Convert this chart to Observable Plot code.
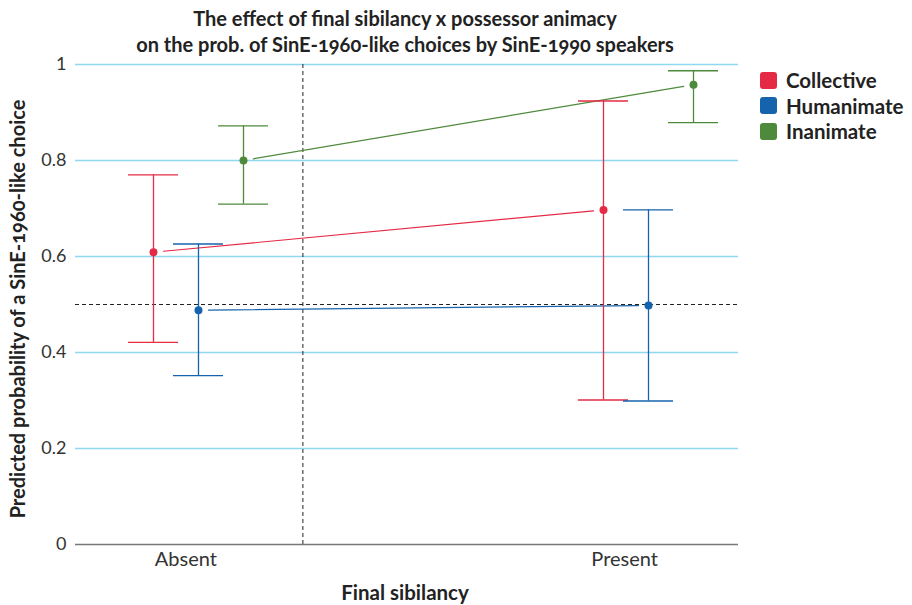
<!DOCTYPE html>
<html><head><meta charset="utf-8">
<script src="https://cdn.jsdelivr.net/npm/d3@7"></script>
<script src="https://cdn.jsdelivr.net/npm/@observablehq/plot@0.6"></script>
<style>
body{margin:0;background:#fff;font-family:Lato,"Open Sans",sans-serif;}
#wrap{position:relative;width:912px;height:605px;overflow:hidden;font-variant-numeric:oldstyle-nums;}
.t{position:absolute;white-space:nowrap;color:#222;}
.title{left:0;width:810px;text-align:center;font-weight:bold;font-size:20px;}
.leg{left:760px;font-weight:bold;font-size:20.5px;display:flex;align-items:center;}
.sw{width:17px;height:17px;border-radius:3px;margin-right:9px;display:inline-block;}
#plot svg{position:absolute;left:0;top:0;}
</style>
</head><body>
<div id="wrap">
  <div id="plot"></div>
  <div class="t title" style="top:6px">The effect of final sibilancy x possessor animacy</div>
  <div class="t title" style="top:32px">on the prob. of SinE-1960-like choices by SinE-1990 speakers</div>
  <div id="legend"></div>
  <div class="t" id="xlab" style="left:0;width:810px;text-align:center;top:580px;font-weight:bold;font-size:20.5px;">Final sibilancy</div>
  <div class="t" id="ylab" style="left:17px;top:309px;font-weight:bold;font-size:20px;transform:translate(-50%,-50%) rotate(-90deg);">Predicted probability of a SinE-1960-like choice</div>
</div>
<script>
// ---- data ----
const groups = ["Collective", "Humanimate", "Inanimate"];
const groupColors = ["#e52a45", "#1663ad", "#4e8a3b"];
const sibilancy = ["Absent", "Present"];
const sibilancyPos = [1, 2];
const dodge = [-0.1, 0, 0.1];
const tickPos = [0.972, 1.947];

const collectiveFit = [0.609, 0.697];
const collectiveLo  = [0.421, 0.301];
const collectiveHi  = [0.770, 0.924];
const humanimateFit = [0.488, 0.498];
const humanimateLo  = [0.352, 0.299];
const humanimateHi  = [0.626, 0.697];
const inanimateFit  = [0.800, 0.958];
const inanimateLo   = [0.709, 0.879];
const inanimateHi   = [0.872, 0.987];

const yTicks = [0, 0.2, 0.4, 0.6, 0.8, 1];
const yRef = 0.5;
const xRef = 1.232;
const capHalf = 0.0556;

// ---- build table ----
const fits = [collectiveFit, humanimateFit, inanimateFit];
const los = [collectiveLo, humanimateLo, inanimateLo];
const his = [collectiveHi, humanimateHi, inanimateHi];
const rows = [];
groups.forEach((g, gi) => sibilancy.forEach((s, si) => {
  rows.push({group: g, sib: s, x: sibilancyPos[si] + dodge[gi], y: fits[gi][si], lo: los[gi][si], hi: his[gi][si]});
}));
const links = groups.map((g, gi) => ({
  group: g,
  x1: sibilancyPos[0] + dodge[gi], y1: fits[gi][0],
  x2: sibilancyPos[1] + dodge[gi], y2: fits[gi][1]
}));

const chart = Plot.plot({
  width: 912, height: 605,
  marginLeft: 75, marginRight: 174, marginTop: 64, marginBottom: 61,
  style: {fontFamily: "Lato, 'Open Sans', sans-serif", background: "transparent", color: "#333"},
  x: {domain: [0.7267, 2.2]},
  y: {domain: [0, 1]},
  color: {domain: groups, range: groupColors},
  marks: [
    Plot.ruleY(yTicks.filter(d => d > 0), {stroke: "#8fd8f0", strokeWidth: 1.3}),
    Plot.ruleY([yRef], {stroke: "#222", strokeDasharray: "4,3", strokeWidth: 1}),
    Plot.ruleX([xRef], {y1: 0, y2: 1, stroke: "#222", strokeDasharray: "4,3", strokeWidth: 1}),
    Plot.ruleY([0], {stroke: "#777", strokeWidth: 1.3}),
    Plot.axisY({ticks: yTicks, tickSize: 0, tickPadding: 9, fontSize: 18, tickFormat: d => String(d), label: null}),
    Plot.axisX({ticks: tickPos, tickSize: 0, tickPadding: 7, fontSize: 20, tickFormat: (d, i) => sibilancy[i], label: null}),
    Plot.arrow(links, {x1: "x1", y1: "y1", x2: "x2", y2: "y2", stroke: "group", strokeWidth: 1.2, insetStart: 10, insetEnd: 10, headLength: 0}),
    Plot.ruleX(rows, {x: "x", y1: "lo", y2: "hi", stroke: "group", strokeWidth: 1.3}),
    Plot.ruleY(rows, {y: "lo", x1: d => d.x - capHalf, x2: d => d.x + capHalf, stroke: "group", strokeWidth: 1.3}),
    Plot.ruleY(rows, {y: "hi", x1: d => d.x - capHalf, x2: d => d.x + capHalf, stroke: "group", strokeWidth: 1.3}),
    Plot.dot(rows, {x: "x", y: "y", fill: "group", r: 4})
  ]
});
document.getElementById("plot").appendChild(chart);

// legend
const leg = document.getElementById("legend");
groups.forEach((g, i) => {
  const d = document.createElement("div");
  d.className = "t leg";
  d.style.top = (68 + i * 25.5) + "px";
  d.innerHTML = `<span class="sw" style="background:${groupColors[i]}"></span>${g}`;
  leg.appendChild(d);
});
</script>
</body></html>
